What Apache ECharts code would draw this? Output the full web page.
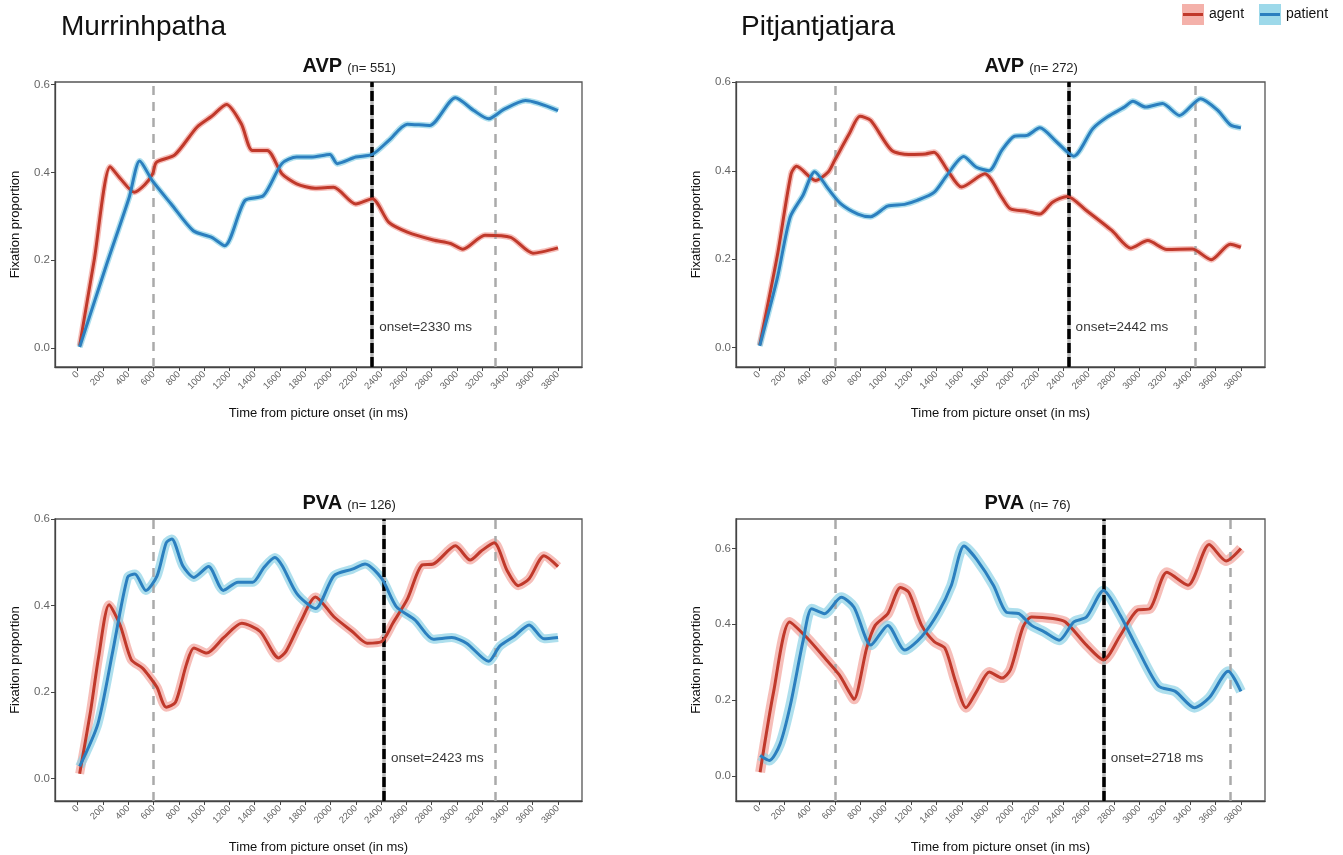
<!DOCTYPE html>
<html>
<head>
<meta charset="utf-8">
<script src="https://cdn.jsdelivr.net/npm/echarts@6/dist/echarts.min.js"></script>
<style>html,body{margin:0;padding:0;background:#fff}#c{width:1343px;height:855px}</style>
</head>
<body>
<div id="c"></div>
<script>
// ---- data ----
const languages = ['Murrinhpatha', 'Pitjantjatjara'];
const panelTitles = ['AVP', 'AVP', 'PVA', 'PVA'];
const panelN = ['(n= 551)', '(n= 272)', '(n= 126)', '(n= 76)'];
const xTicks = [0,200,400,600,800,1000,1200,1400,1600,1800,2000,2200,2400,2600,2800,3000,3200,3400,3600,3800];
const yTicks = [0, 0.2, 0.4, 0.6];
const windowStarts = [600, 600, 600, 600];
const onsets = [2330, 2442, 2423, 2718];
const windowEnds = [3300, 3442, 3300, 3718];

const murAVP_agent = [[15,0.005],[130,0.2],[257,0.413],[340,0.385],[447,0.355],[530,0.372],[593,0.397],[622,0.423],[768,0.44],[943,0.503],[1060,0.528],[1177,0.555],[1294,0.511],[1382,0.45],[1499,0.45],[1615,0.397],[1732,0.374],[1878,0.364],[2024,0.366],[2200,0.328],[2331,0.34],[2462,0.286],[2608,0.264],[2813,0.246],[2950,0.238],[3047,0.225],[3222,0.257],[3426,0.252],[3602,0.216],[3800,0.228]];
const murAVP_patient = [[15,0.002],[228,0.19],[407,0.343],[490,0.426],[593,0.38],[739,0.328],[914,0.267],[1060,0.252],[1163,0.233],[1323,0.336],[1469,0.347],[1615,0.42],[1732,0.435],[1849,0.435],[1995,0.441],[2053,0.42],[2200,0.435],[2331,0.441],[2462,0.473],[2608,0.51],[2784,0.507],[2988,0.57],[3134,0.541],[3251,0.522],[3368,0.543],[3543,0.564],[3800,0.541]];
const pitAVP_agent = [[7,0.006],[147,0.21],[254,0.393],[297,0.41],[447,0.378],[547,0.397],[597,0.423],[714,0.484],[797,0.523],[881,0.514],[1047,0.446],[1181,0.437],[1314,0.438],[1381,0.442],[1481,0.404],[1598,0.363],[1781,0.393],[1915,0.34],[1982,0.314],[2115,0.308],[2215,0.302],[2315,0.329],[2432,0.342],[2582,0.31],[2782,0.265],[2932,0.225],[3066,0.242],[3216,0.222],[3416,0.223],[3566,0.199],[3716,0.234],[3800,0.227]];
const pitAVP_patient = [[7,0.004],[147,0.159],[247,0.295],[347,0.344],[440,0.398],[547,0.359],[647,0.325],[781,0.302],[881,0.296],[1014,0.32],[1148,0.324],[1248,0.333],[1381,0.351],[1481,0.389],[1615,0.432],[1715,0.408],[1815,0.4],[1915,0.446],[2015,0.478],[2115,0.48],[2215,0.497],[2348,0.465],[2482,0.433],[2632,0.495],[2749,0.522],[2882,0.544],[2949,0.557],[3049,0.544],[3182,0.552],[3316,0.525],[3483,0.563],[3616,0.537],[3716,0.504],[3800,0.497]];
const murPVA_agent = [[15,0.011],[102,0.157],[166,0.283],[248,0.402],[335,0.355],[423,0.275],[510,0.256],[554,0.241],[627,0.211],[700,0.165],[773,0.176],[860,0.264],[919,0.302],[1021,0.29],[1152,0.325],[1298,0.359],[1443,0.34],[1589,0.279],[1648,0.294],[1764,0.363],[1881,0.42],[2027,0.374],[2172,0.34],[2289,0.313],[2406,0.317],[2493,0.359],[2610,0.416],[2726,0.494],[2814,0.496],[2989,0.538],[3105,0.505],[3193,0.526],[3295,0.545],[3397,0.481],[3485,0.446],[3572,0.462],[3689,0.515],[3800,0.49]];
const murPVA_patient = [[15,0.028],[160,0.127],[277,0.294],[394,0.465],[452,0.473],[539,0.435],[627,0.468],[700,0.545],[744,0.554],[831,0.492],[919,0.465],[1035,0.49],[1152,0.435],[1268,0.454],[1385,0.454],[1473,0.488],[1560,0.511],[1618,0.492],[1735,0.427],[1881,0.393],[2027,0.469],[2172,0.484],[2274,0.496],[2406,0.462],[2522,0.397],[2668,0.367],[2814,0.322],[2960,0.326],[3076,0.313],[3251,0.271],[3339,0.306],[3455,0.329],[3572,0.355],[3689,0.323],[3800,0.326]];
const pitPVA_agent = [[10,0.01],[117,0.223],[243,0.406],[383,0.363],[533,0.306],[633,0.267],[717,0.219],[750,0.202],[850,0.337],[917,0.397],[1017,0.428],[1117,0.497],[1183,0.484],[1283,0.397],[1383,0.354],[1467,0.337],[1550,0.25],[1633,0.18],[1717,0.223],[1817,0.274],[1917,0.258],[1983,0.28],[2083,0.393],[2150,0.419],[2317,0.415],[2417,0.406],[2583,0.345],[2717,0.306],[2850,0.371],[2983,0.437],[3083,0.441],[3217,0.537],[3383,0.503],[3550,0.61],[3683,0.567],[3800,0.6]];
const pitPVA_patient = [[10,0.054],[83,0.041],[167,0.084],[250,0.189],[350,0.358],[417,0.441],[517,0.428],[650,0.471],[750,0.445],[883,0.345],[1017,0.397],[1150,0.332],[1283,0.367],[1417,0.432],[1517,0.502],[1617,0.606],[1717,0.571],[1850,0.502],[1950,0.432],[2050,0.428],[2150,0.397],[2250,0.38],[2367,0.358],[2483,0.406],[2583,0.419],[2717,0.489],[2850,0.423],[2983,0.337],[3150,0.237],[3283,0.223],[3433,0.18],[3550,0.206],[3700,0.276],[3800,0.223]];

const agentSets = [murAVP_agent, pitAVP_agent, murPVA_agent, pitPVA_agent];
const patientSets = [murAVP_patient, pitAVP_patient, murPVA_patient, pitPVA_patient];

// ---- layout / style ----
const grids = [
  {left: 55, top: 82, width: 527, height: 285},
  {left: 736, top: 82, width: 529, height: 285},
  {left: 55, top: 519, width: 527, height: 286},
  {left: 736, top: 519, width: 529, height: 285}
];
const yRanges = [[-0.0434, 0.606], [-0.0438, 0.6007], [-0.0518, 0.6], [-0.066, 0.6775]];
const bandWidths = [6, 6, 9, 10];
const AGENT = '#c0392b', AGENT_BAND = '#f2a39b';
const PATIENT = '#2b7fbf', PATIENT_BAND = '#8cd2e6';
const FONT = 'Liberation Sans';

const chart = echarts.init(document.getElementById('c'));

const option = {
  animation: false,
  textStyle: {fontFamily: FONT},
  grid: grids.map(g => Object.assign({show: true, borderColor: '#555', borderWidth: 1.3, backgroundColor: 'transparent'}, g)),
  title: [],
  xAxis: [], yAxis: [], series: [],
  graphic: []
};

languages.forEach((name, i) => {
  option.title.push({text: name, left: i === 0 ? 56 : 736, top: 8,
    textStyle: {fontSize: 28, fontWeight: 'normal', color: '#111', fontFamily: FONT}});
});

grids.forEach((g, i) => {
  const cx = g.left + g.width / 2;
  option.title.push({
    text: '{b|' + panelTitles[i] + '} {s|' + panelN[i] + '}',
    left: cx - 21, top: i < 2 ? 51 : 488,
    textStyle: {rich: {
      b: {fontSize: 20, fontWeight: 'bold', color: '#111', fontFamily: FONT},
      s: {fontSize: 13, fontWeight: 'normal', color: '#222', fontFamily: FONT, padding: [4, 0, 0, 0]}
    }}
  });
  option.xAxis.push({
    type: 'value', gridIndex: i, min: -180, max: 3990,
    name: 'Time from picture onset (in ms)', nameLocation: 'middle', nameGap: 40,
    nameTextStyle: {fontSize: 13, color: '#111', fontFamily: FONT},
    axisLine: {show: true, onZero: false, lineStyle: {color: '#444', width: 1.3}},
    axisTick: {show: true, customValues: xTicks, length: 4, lineStyle: {color: '#444'}},
    axisLabel: {customValues: xTicks, formatter: v => String(v), rotate: 45, fontSize: 9.5, color: '#666', margin: 6, fontFamily: FONT},
    splitLine: {show: false}
  });
  option.yAxis.push({
    type: 'value', gridIndex: i, min: yRanges[i][0], max: yRanges[i][1],
    name: 'Fixation proportion', nameLocation: 'middle', nameGap: 33, nameRotate: 90,
    nameTextStyle: {fontSize: 13, color: '#111', fontFamily: FONT},
    axisLine: {show: true, onZero: false, lineStyle: {color: '#444', width: 1.3}},
    axisTick: {show: true, customValues: yTicks, length: 4, lineStyle: {color: '#444'}},
    axisLabel: {customValues: yTicks, formatter: v => v.toFixed(1), fontSize: 11.5, color: '#666', margin: 5, fontFamily: FONT},
    splitLine: {show: false}
  });
  const lineBase = {type: 'line', xAxisIndex: i, yAxisIndex: i, showSymbol: false, symbol: 'none', smooth: 0.25, silent: true};
  option.series.push(Object.assign({}, lineBase, {name: 'agent band', data: agentSets[i], z: 1,
    lineStyle: {color: AGENT_BAND, width: bandWidths[i], opacity: 0.7, join: 'round'}}));
  option.series.push(Object.assign({}, lineBase, {name: 'patient band', data: patientSets[i], z: 1,
    lineStyle: {color: PATIENT_BAND, width: bandWidths[i], opacity: 0.7, join: 'round'}}));
  option.series.push(Object.assign({}, lineBase, {name: 'agent', data: agentSets[i], z: 3,
    lineStyle: {color: AGENT, width: 3, join: 'round'}}));
  option.series.push(Object.assign({}, lineBase, {name: 'patient', data: patientSets[i], z: 3,
    lineStyle: {color: PATIENT, width: 3, join: 'round'}}));
  option.series.push({
    type: 'scatter', xAxisIndex: i, yAxisIndex: i, silent: true, symbolSize: 0, z: 4,
    data: [[onsets[i], 0.047]],
    label: {show: true, position: 'right', distance: 7, formatter: 'onset=' + onsets[i] + ' ms',
      fontSize: 13.5, color: '#000', fontFamily: FONT},
    markLine: {
      silent: true, symbol: 'none', label: {show: false}, z: 2,
      data: [
        {xAxis: windowStarts[i], lineStyle: {color: '#aaa', type: [9, 7], width: 2.5}},
        {xAxis: windowEnds[i], lineStyle: {color: '#aaa', type: [9, 7], width: 2.5}},
        {xAxis: onsets[i], lineStyle: {color: '#b5b5b5', type: 'solid', width: 3.5}},
        {xAxis: onsets[i], lineStyle: {color: '#000', type: [10, 4], width: 3.5}}
      ]
    }
  });
});

// legend (drawn as graphics)
const legendItems = [
  {label: 'agent', line: AGENT, fill: AGENT_BAND, x: 1182},
  {label: 'patient', line: PATIENT, fill: PATIENT_BAND, x: 1259}
];
legendItems.forEach(it => {
  option.graphic.push({type: 'rect', shape: {x: it.x, y: 4, width: 22, height: 21}, style: {fill: it.fill, opacity: 0.85}, silent: true});
  option.graphic.push({type: 'line', shape: {x1: it.x + 1, y1: 14.5, x2: it.x + 21, y2: 14.5}, style: {stroke: it.line, lineWidth: 3}, silent: true});
  option.graphic.push({type: 'text', x: it.x + 27, y: 14.5, style: {text: it.label, fill: '#111', font: '14px "Liberation Sans"', textVerticalAlign: 'middle'}, silent: true});
});

chart.setOption(option);
</script>
</body>
</html>
